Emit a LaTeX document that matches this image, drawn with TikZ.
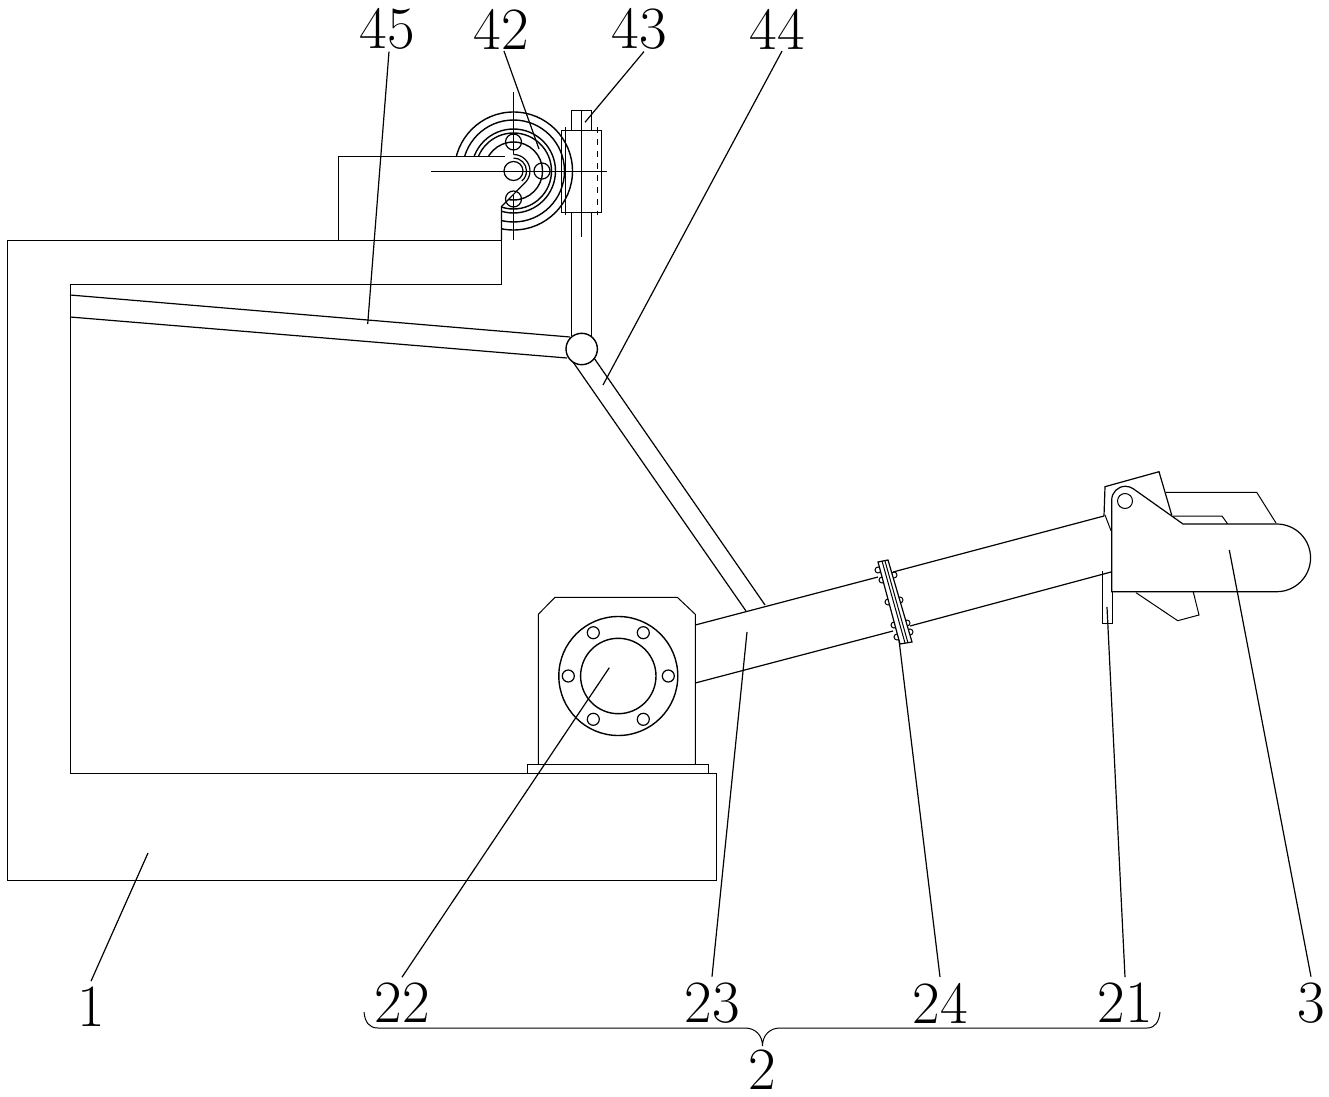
\documentclass[tikz,border=0pt]{standalone}
\usepackage{tikz}
\tikzset{x=0.5pt,y=-0.5pt,
  every path/.style={black,line width=0.5pt},
  part/.style={inner sep=0pt,outer sep=3pt,font=\fontsize{30}{32}\selectfont},
  toppart/.style={part,outer sep=1pt},
  leader/.style={line width=0.6pt}}

\begin{document}
\begin{tikzpicture}
  \useasboundingbox (0,0) rectangle (1329,1097);
  % pulley
  \coordinate (w) at (513.5,171);
  \foreach \rad in {59,51,42,38,29} \draw[line width=0.7pt] (w) circle[radius=\rad];
  \draw[thin] (w |- 0,92) -- (w |- 0,240);
  % mounting block over the pulley
  \fill[white] (338,240) -- (338,157) -- (505,157) -- (513.5,154.5)
    arc[start angle=-90,end angle=50,radius=16.5] -- (501.5,206.5) -- (501.5,240) -- cycle;
  \draw (338,240) -- (338,157) -- (505,157);
  \draw[line width=0.6pt] (513.5,154.5) arc[start angle=-90,end angle=50,radius=16.5] -- (501.5,206.5) -- (501.5,240);
  \draw[line width=0.6pt] (513.5,158) arc[start angle=-90,end angle=50,radius=13];
  \draw[line width=0.6pt] (w) circle[radius=9.5];
  \foreach \hx/\hy in {513.5/142,542/171,513.5/199} \draw[line width=0.6pt] (\hx,\hy) circle[radius=8];
  \draw[thin] (431,171) -- (607,171);
  % frame
  \draw (501.5,240) -- (7,240) -- (7,880) -- (716,880) -- (716,773) -- (70,773) -- (70,284) -- (501.5,284) -- cycle;
  % rod and housing
  \draw (571.3,130) -- (571.3,111) -- (591.7,111) -- (591.7,130);
  \draw (561.7,131) rectangle (601.7,212.7);
  \draw[thin] (565.7,127) -- (565.7,215);
  \draw[thin,dashed] (597.7,127) -- (597.7,215);
  \draw[thin] (581.7,111) -- (581.7,237);
  \draw (571.3,212.7) -- (571.3,336);
  \draw (591.7,212.7) -- (591.7,337);
  % bars
  \draw[line width=0.6pt] (70,295) -- (570,337);
  \draw[line width=0.6pt] (70,317) -- (567,358);
  \draw[line width=0.6pt] (594,358) -- (765,605);
  \draw[line width=0.6pt] (573,362) -- (746,611);
  \node[circle,draw,fill=white,minimum size=15.7pt,inner sep=0pt,line width=0.7pt] (ball) at (581.7,349) {};
  % bearing seat
  \draw (538.3,764) -- (538.3,614.3) -- (555,597.3) -- (677.3,597.3) -- (695.3,614.3) -- (695.3,764);
  \draw (527.3,773) -- (527.3,764) -- (708.3,764) -- (708.3,773);
  \coordinate (s) at (618.3,676);
  \draw[line width=0.7pt] (s) circle[radius=59.5];
  \draw[line width=0.7pt] (s) circle[radius=37.7];
  \foreach \ang in {0,60,...,300} \draw[line width=0.6pt] (s) ++(\ang:50) circle[radius=6];
  % tube
  \draw[line width=0.6pt] (695.3,625) -- (878,577);
  \draw[line width=0.6pt] (893,572) -- (1104,516);
  \draw[line width=0.6pt] (695.3,683) -- (893,631);
  \draw[line width=0.6pt] (910,626) -- (1111,572);
  % flange
  \foreach \bx/\by in {878/570,882/580,888/602,894/625,897/637,894/575,900/600,907/623,910/632}
    \draw (\bx,\by) circle[radius=3];
  \filldraw[fill=white,line width=0.6pt] (878,562) -- (888,560) -- (912,642) -- (900,644) -- cycle;
  \draw (882,561) -- (905,643);
  \draw (885,561) -- (908,643);
  % end piece
  \draw[line width=0.6pt] (1104,516) -- (1105,486.7) -- (1159,471.7) -- (1171.7,515);
  \draw (1105,515) -- (1111,530.7);
  \draw (1166,492.3) -- (1256.7,492.3) -- (1276,523);
  \draw (1172.7,516) -- (1222,516) -- (1227.7,524);
  \draw (1136,592.7) -- (1177.7,620.7) -- (1199,615) -- (1193.3,592);
  \draw[line width=0.6pt] (1111.7,591.7) -- (1111.7,500) arc[start angle=180,end angle=305,radius=13.7]
    -- (1183,524) -- (1276.7,524) arc[start angle=-90,end angle=90,radius=33.85] -- cycle;
  \draw (1125,501) circle[radius=7.5];
  \draw[thin] (1102.3,571) -- (1102.3,623.3) -- (1112.3,623.3) -- (1112.3,591.7);
  % labels
  \node[toppart] (n45) at (387,29) {45};
  \node[toppart] (n42) at (501,29) {42};
  \node[toppart] (n43) at (639,29) {43};
  \node[toppart] (n44) at (777,29) {44};
  \node[part] (n1) at (91,1007) {1};
  \node[part] (n22) at (402,1003) {22};
  \node[part] (n23) at (712,1003) {23};
  \node[part] (n24) at (940,1003) {24};
  \node[part] (n21) at (1125,1003) {21};
  \node[part] (n3) at (1311,1003) {3};
  \node[part] (n2) at (762,1070) {2};
  \coordinate (c45) at (367.7,324);
  \coordinate (c42) at (539,149);
  \coordinate (c43) at (585,122.3);
  \coordinate (c44) at (603,385);
  \coordinate (c1) at (148,853);
  \coordinate (c22) at (609.3,667.7);
  \coordinate (c23) at (747,632);
  \coordinate (c24) at (899,640);
  \coordinate (c21) at (1107,607);
  \coordinate (c3) at (1229.3,550);
  \draw[leader] ([xshift=1pt]n45.south) -- (c45);
  \draw[leader] ([xshift=1.5pt]n42.south) -- (c42);
  \draw[leader] ([xshift=2.5pt]n43.south) -- (c43);
  \draw[leader] ([xshift=2.5pt]n44.south) -- (c44);
  \draw[leader] (n1.north) -- (c1);
  \draw[leader] (n22.north) -- (c22);
  \draw[leader] (n23.north) -- (c23);
  \draw[leader] (n24.north) -- (c24);
  \draw[leader] (n21.north) -- (c21);
  \draw[leader] (n3.north) -- (c3);
  % brace
  \draw (364,1012) .. controls (365,1022) and (369,1028) .. (378,1028) -- (745,1028)
    .. controls (755,1028) and (762.5,1035) .. (762.5,1046) .. controls (762.5,1035) and (770,1028) .. (780,1028)
    -- (1147,1028) .. controls (1155,1028) and (1159,1022) .. (1160,1012);
\end{tikzpicture}
\end{document}
